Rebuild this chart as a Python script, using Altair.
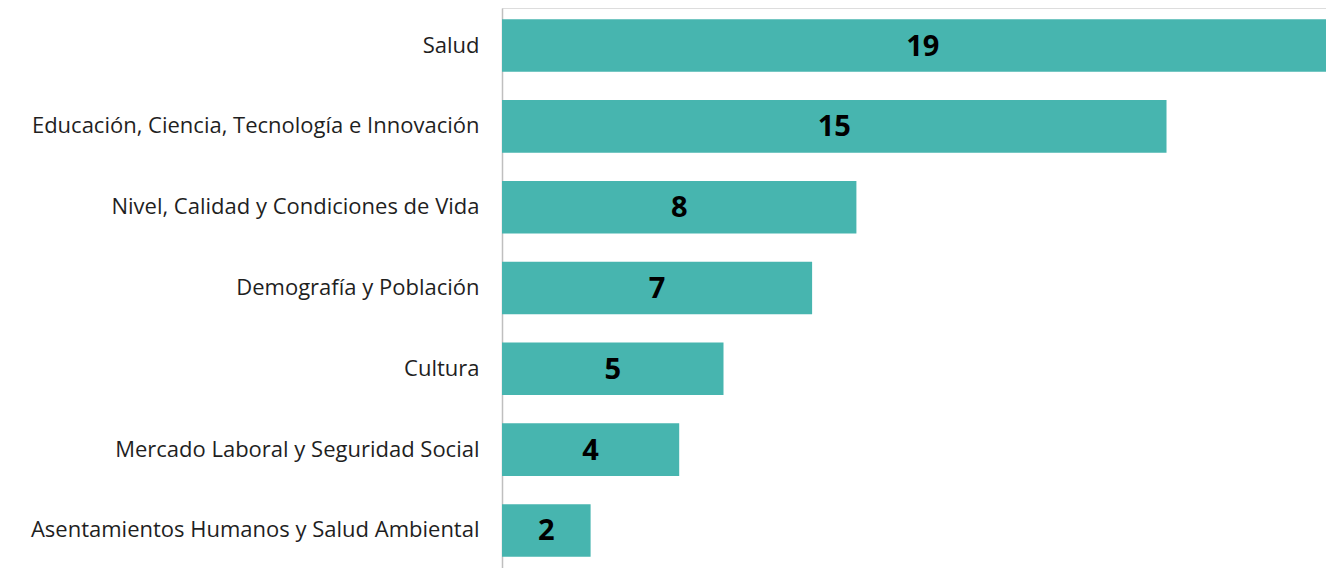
import altair as alt
import pandas as pd

categories = [
    "Salud",
    "Educación, Ciencia, Tecnología e Innovación",
    "Nivel, Calidad y Condiciones de Vida",
    "Demografía y Población",
    "Cultura",
    "Mercado Laboral y Seguridad Social",
    "Asentamientos Humanos y Salud Ambiental",
]
values = [19, 15, 8, 7, 5, 4, 2]

df = pd.DataFrame({"cat": categories, "val": values})

y_enc = alt.Y(
    "cat:N",
    sort=categories,
    title=None,
    scale=alt.Scale(paddingInner=0.35, paddingOuter=0.14),
    axis=alt.Axis(
        ticks=False,
        domain=True,
        domainColor="#bfbfbf",
        domainWidth=1.5,
        labelFont="Open Sans",
        labelFontSize=22,
        labelColor="#1f1f1f",
        labelPadding=23,
        labelLimit=600,
        grid=False,
    ),
)

x_scale = alt.Scale(domain=[0, 18.6], nice=False)

bars = alt.Chart(df).mark_bar(color="#47b5af", clip=True).encode(
    y=y_enc,
    x=alt.X("val:Q", scale=x_scale, axis=None),
)

text = alt.Chart(df).transform_calculate(mid="datum.val / 2").mark_text(
    font="Open Sans",
    fontSize=29,
    fontWeight="bold",
    color="#000000",
    baseline="middle",
    align="center",
    dy=1,
).encode(
    y=alt.Y("cat:N", sort=categories),
    x=alt.X("mid:Q", scale=x_scale),
    text="val:Q",
)

chart = (
    alt.layer(bars, text)
    .properties(
        width=824,
        height=560,
        autosize=alt.AutoSizeParams(type="none"),
        padding={"left": 494, "top": 0, "right": 0, "bottom": 0},
    )
    .configure_view(stroke=None)
    .configure(background="white")
)

chart.save("out.html", embed_options={"renderer": "svg", "actions": False})
